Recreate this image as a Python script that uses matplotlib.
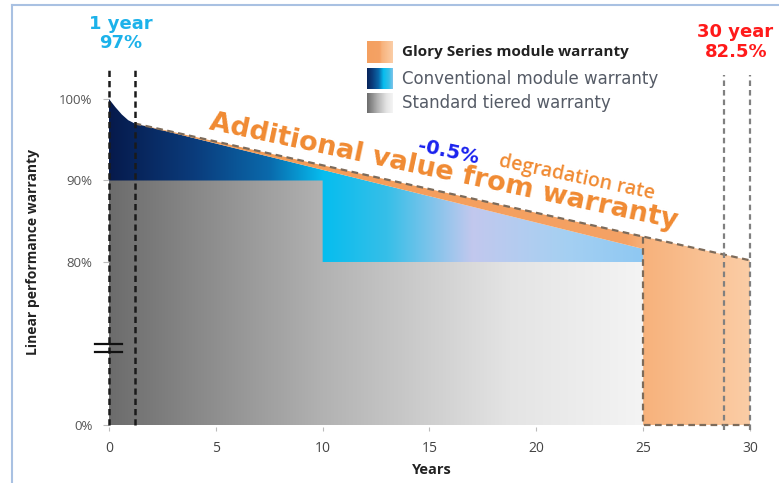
import matplotlib
matplotlib.use("Agg")
import matplotlib.pyplot as plt
import numpy as np
from matplotlib.colors import LinearSegmentedColormap
from matplotlib.patches import Polygon
from matplotlib.lines import Line2D

# data (percent values)
curve_years = [0, 0.3, 0.6, 0.9, 1.2]
curve_perf = [100, 99.0, 98.1, 97.4, 97.0]
conv_end_year = 25
conv_end_perf = 81.6
glory_end_year = 30
glory_end_perf = 80.2
tier_years = [0, 10, 10, 25]
tier_perf = [90, 90, 80, 80]
xticks = [0, 5, 10, 15, 20, 25, 30]
yticks_pct = [0, 80, 90, 100]
ytick_labels = ["0%", "80%", "90%", "100%"]
marker_years = [0, 1.2]
glory_marker_years = [28.8, 30]


def vis(p):
    # broken axis: 0..80% squeezed into 60..80
    p = np.asarray(p, dtype=float)
    return np.where(p >= 80, p, 60 + p * 20 / 80)


fig = plt.figure(figsize=(7.79, 4.83), dpi=100)
ax = fig.add_axes([0.1399, 0.1151, 0.8503, 0.7474])
ax.set_xlim(0, 31)
ax.set_ylim(59.7, 104)
for s in ax.spines.values():
    s.set_visible(False)

base = float(vis(0))

# standard tiered (gray)
gray_pts = [(0, base)] + list(zip(tier_years, tier_perf)) + [(25, base)]
gray_poly = Polygon(gray_pts, closed=True, facecolor="none", edgecolor="none")
ax.add_patch(gray_poly)
gray_cmap = LinearSegmentedColormap.from_list(
    "g", [(0, "#6c6c6c"), (0.4, "#b2b2b2"), (0.75, "#e4e4e4"), (1, "#f4f4f4")])
im = ax.imshow(np.linspace(0, 1, 256)[None, :], cmap=gray_cmap, aspect="auto",
               extent=[0, 25, base, 90], zorder=1, interpolation="bilinear")
im.set_clip_path(gray_poly)

# conventional (blue)
blue_pts = [(0, 90)] + list(zip(curve_years, curve_perf)) + \
    [(conv_end_year, conv_end_perf), (25, 80), (10, 80), (10, 90)]
blue_poly = Polygon(blue_pts, closed=True, facecolor="none", edgecolor="none")
ax.add_patch(blue_poly)
blue_cmap = LinearSegmentedColormap.from_list(
    "b", [(0, "#061a4c"), (0.16, "#0b3c7c"), (0.3, "#0a6aac"), (0.4, "#06bdef"),
          (0.52, "#36bfe8"), (0.68, "#c2c8ee"), (0.85, "#a6d0f2"), (1, "#8ec8f2")])
im = ax.imshow(np.linspace(0, 1, 256)[None, :], cmap=blue_cmap, aspect="auto",
               extent=[0, 25, 80, 100], zorder=2, interpolation="bilinear")
im.set_clip_path(blue_poly)

# glory (orange)
glory_at25 = curve_perf[-1] - (curve_perf[-1] - glory_end_perf) / \
    (glory_end_year - curve_years[-1]) * (25 - curve_years[-1])
orange_pts = [(curve_years[-1], curve_perf[-1]), (glory_end_year, glory_end_perf),
              (glory_end_year, base), (25, base), (25, conv_end_perf)]
orange_poly = Polygon(orange_pts, closed=True, facecolor="none", edgecolor="none")
ax.add_patch(orange_poly)
orange_cmap = LinearSegmentedColormap.from_list(
    "o", [(0, "#f39a52"), (0.8, "#f5a265"), (0.83, "#f7b27c"), (1, "#fbcda6")])
im = ax.imshow(np.linspace(0, 1, 256)[None, :], cmap=orange_cmap, aspect="auto",
               extent=[curve_years[-1], 30, base, 100], zorder=3, interpolation="bilinear")
im.set_clip_path(orange_poly)

dash_kw = dict(color="#7d6b5a", lw=1.6, dashes=(3, 2), zorder=5)
ax.plot([curve_years[-1], glory_end_year], [curve_perf[-1], glory_end_perf], **dash_kw)
ax.plot([25, 25, 30], [glory_at25, base, base], **dash_kw)

# vertical markers
for x in marker_years:
    ax.plot([x, x], [base, 103.8], color="#1a1a1a", lw=1.8, dashes=(2.5, 1.6),
            zorder=6, clip_on=False)
for x in glory_marker_years:
    ax.plot([x, x], [59.4, 103.0], color="#808080", lw=1.6, dashes=(2.5, 1.8),
            zorder=6, clip_on=False)

# axis break
for yb in [69.9, 69.0]:
    ax.plot([-0.66, 0.61], [yb, yb], color="#111111", lw=1.6, zorder=7, clip_on=False)

ax.set_xticks(xticks)
ax.set_xticklabels([str(t) for t in xticks], fontsize=10, color="#444444",
                   family="Open Sans")
ax.set_yticks(vis(yticks_pct))
ax.set_yticklabels(ytick_labels, fontsize=9.5, color="#555555", family="Open Sans")
ax.tick_params(axis="x", length=3, color="#bbbbbb", pad=7)
ax.tick_params(axis="y", length=4, color="#bbbbbb", pad=8)

fig.text(432 / 779, 1 - 470 / 483, "Years", ha="center", va="center", fontsize=10.5,
         fontweight="bold", color="#222222", family="Open Sans")
fig.text(0.043, 0.478, "Linear performance warranty", ha="center", va="center",
         rotation=90, fontsize=10, fontweight="bold", color="#222222", family="Open Sans")

# annotations
fig.text(121 / 779, 1 - 24 / 483, "1 year", ha="center", va="center", fontsize=13,
         fontweight="bold", color="#1cb2ea")
fig.text(121 / 779, 1 - 43 / 483, "97%", ha="center", va="center", fontsize=13,
         fontweight="bold", color="#1cb2ea")
fig.text(735 / 779, 1 - 32 / 483, "30 year", ha="center", va="center", fontsize=13,
         fontweight="bold", color="#ff1a1a")
fig.text(736 / 779, 1 - 52 / 483, "82.5%", ha="center", va="center", fontsize=13,
         fontweight="bold", color="#ff1a1a")

fig.text(444 / 779, 1 - 172 / 483, "Additional value from warranty", ha="center",
         va="center", rotation=-12, rotation_mode="anchor", fontsize=19.5,
         fontweight="bold", color="#f08a32")
fig.text(448 / 779, 1 - 152 / 483, "-0.5%", ha="center", va="center", rotation=-12,
         rotation_mode="anchor", fontsize=14, fontweight="bold", color="#1a22ee")
fig.text(577 / 779, 1 - 178 / 483, "degradation rate", ha="center", va="center",
         rotation=-12, rotation_mode="anchor", fontsize=14, color="#f08a32",
         fontweight="semibold", family="Open Sans")

# legend
lx0, lw_ = 367 / 779, 26 / 779
leg = [("Glory Series module warranty", orange_cmap, 41, 63, "#222222", "bold", "Open Sans", 11),
       ("Conventional module warranty", blue_cmap, 68, 89, "#555b66", "normal", "DejaVu Sans", 12),
       ("Standard tiered warranty", gray_cmap, 93, 113, "#555b66", "normal", "DejaVu Sans", 12)]
for label, cm, top, bot, col, wt, fam, fs in leg:
    lax = fig.add_axes([lx0, 1 - bot / 483, lw_, (bot - top) / 483])
    if cm is orange_cmap:
        lax.imshow(np.linspace(0.6, 1, 64)[None, :], cmap=cm, aspect="auto",
                   vmin=0, vmax=1)
    elif cm is blue_cmap:
        lax.imshow(np.linspace(0.05, 0.6, 64)[None, :], cmap=cm, aspect="auto",
                   vmin=0, vmax=1)
    else:
        lax.imshow(np.linspace(0, 1, 64)[None, :], cmap=cm, aspect="auto")
    lax.axis("off")
    fig.text(402 / 779, 1 - (top + bot) / 2 / 483, label, ha="left", va="center",
             fontsize=fs, color=col, fontweight=wt, family=fam)

# outer frame
fig.add_artist(Line2D([12 / 779, 1], [1 - 5 / 483, 1 - 5 / 483], color="#a9c1e2",
                      lw=1.5, transform=fig.transFigure))
fig.add_artist(Line2D([12 / 779, 12 / 779], [0, 1 - 5 / 483], color="#a9c1e2",
                      lw=1.5, transform=fig.transFigure))

fig.savefig("out.png", dpi=100)
